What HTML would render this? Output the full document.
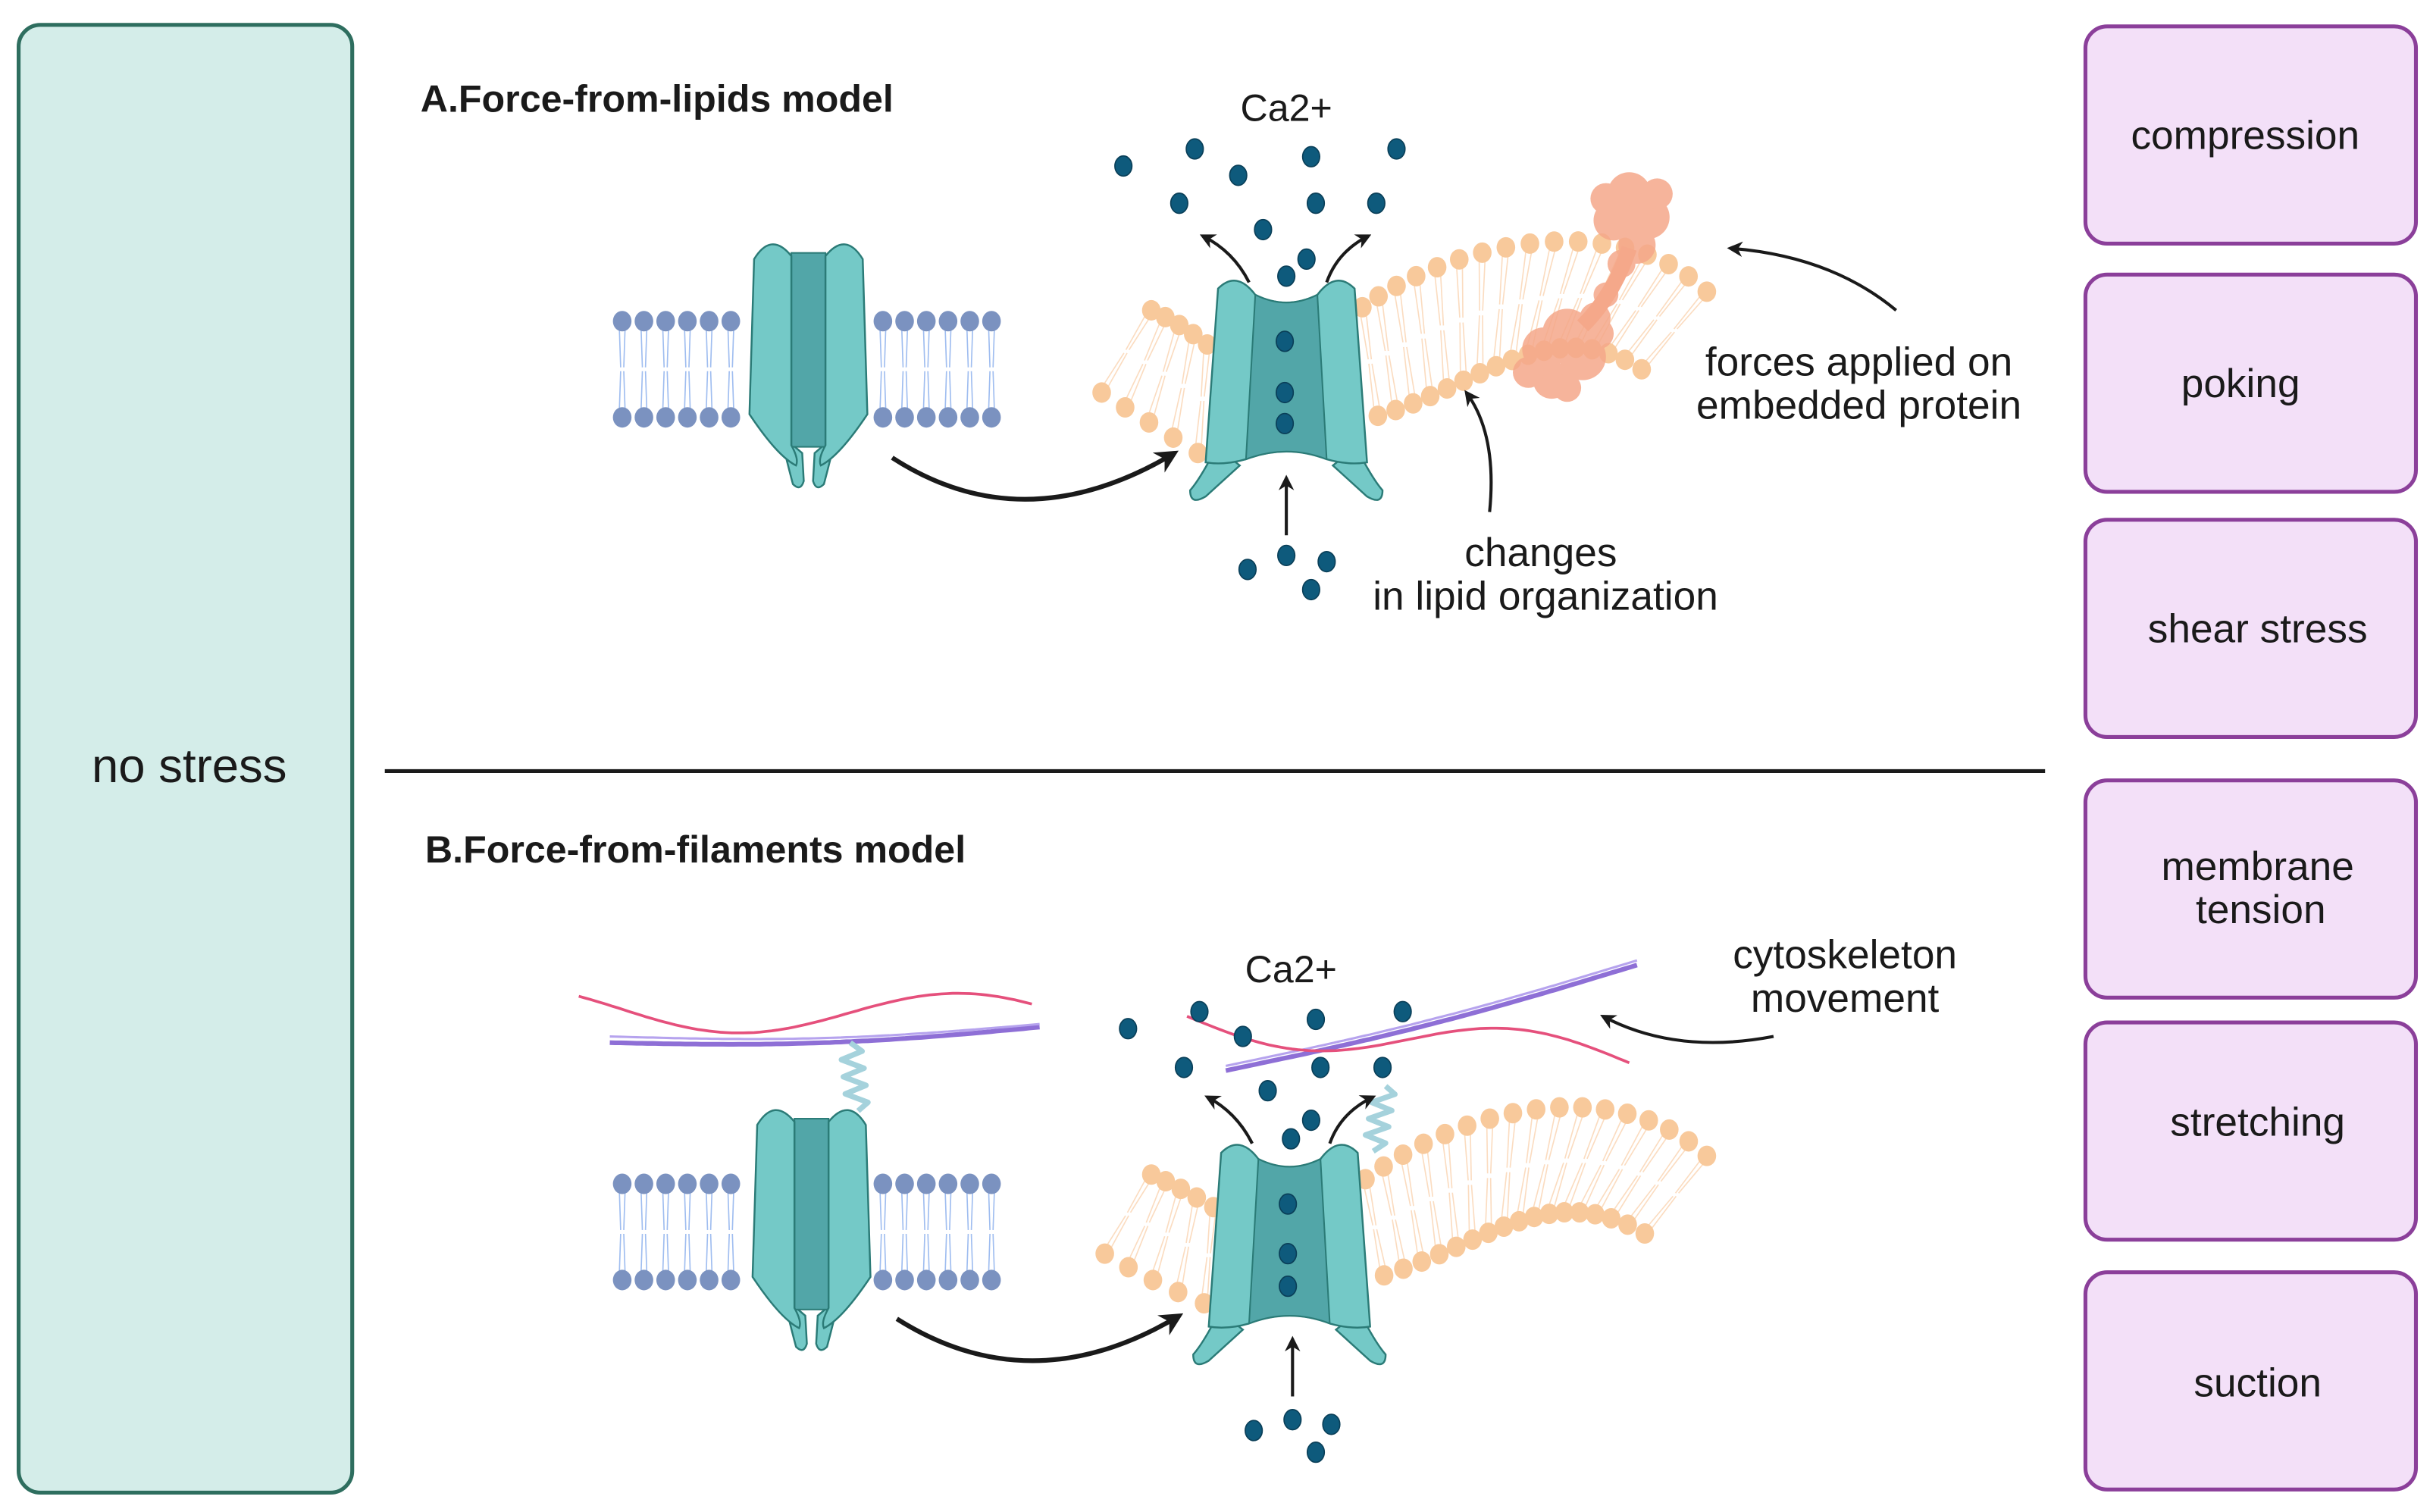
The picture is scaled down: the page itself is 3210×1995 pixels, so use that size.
<!DOCTYPE html>
<html><head><meta charset="utf-8"><style>
html,body{margin:0;padding:0;background:#fff;}
svg{display:block;}
text{font-family:"Liberation Sans",sans-serif;fill:#1a1a1a;}
</style></head><body>
<svg id="s" width="3210" height="1995" viewBox="0 0 1568 974.5" xmlns="http://www.w3.org/2000/svg">
<defs>
<marker id="ah" viewBox="0 0 10 10" refX="8" refY="5" markerWidth="5" markerHeight="5" orient="auto"><path d="M0,0 L10,5 L0,10 L3,5 Z" fill="#1a1a1a"/></marker>
</defs>
<rect x="12" y="16" width="215" height="946" rx="14" fill="#d4ede9" stroke="#2e6e5f" stroke-width="2.5"/>
<text x="122" y="504" font-size="31" text-anchor="middle">no stress</text>
<g fill="#f3e0f8" stroke="#8b3f9a" stroke-width="2.5">
<rect x="1344" y="17" width="213" height="140" rx="14"/>
<rect x="1344" y="177" width="213" height="140" rx="14"/>
<rect x="1344" y="335" width="213" height="140" rx="14"/>
<rect x="1344" y="503" width="213" height="140" rx="14"/>
<rect x="1344" y="659" width="213" height="140" rx="14"/>
<rect x="1344" y="820" width="213" height="140" rx="14"/>
</g>
<g font-size="26" text-anchor="middle">
<text x="1447" y="96">compression</text>
<text x="1444" y="256">poking</text>
<text x="1455" y="414">shear stress</text>
<text x="1455" y="567">membrane</text>
<text x="1457" y="595">tension</text>
<text x="1455" y="732">stretching</text>
<text x="1455" y="900">suction</text>
</g>
<line x1="248" y1="497" x2="1318" y2="497" stroke="#1a1a1a" stroke-width="2.5"/>
<text x="271" y="72" font-size="24.5" font-weight="bold">A.Force-from-lipids model</text>
<text x="274" y="556" font-size="24.5" font-weight="bold">B.Force-from-filaments model</text>
<g font-size="26" text-anchor="middle">
<text x="829" y="78" font-size="24.5">Ca2+</text>
<text x="832" y="633" font-size="24.5">Ca2+</text>
<text x="1198" y="242">forces applied on</text>
<text x="1198" y="270">embedded protein</text>
<text x="993" y="365">changes</text>
<text x="996" y="393">in lipid organization</text>
<text x="1189" y="624">cytoskeleton</text>
<text x="1189" y="652">movement</text>
</g>
<g id="dyn"></g>
<g fill="none" stroke="#1a1a1a" stroke-width="2" marker-end="url(#ah)">
<path d="M575,295 Q660,350 757,292" stroke-width="3"/>
<path d="M578,850 Q665,905 760,848" stroke-width="3"/>
<path d="M805,182 Q795,162 775,152"/>
<path d="M855,182 Q862,162 882,152"/>
<path d="M807,737 Q797,717 778,707"/>
<path d="M857,737 Q864,717 885,707"/>
<path d="M829,345 L829,308"/>
<path d="M833,900 L833,863"/>
<path d="M960,330 Q965,280 945,253"/>
<path d="M1222,200 Q1180,165 1115,160"/>
<path d="M1143,668 Q1080,680 1033,655"/>
</g>
</svg>
<script>
const NS="http://www.w3.org/2000/svg";const g=document.getElementById("dyn");
function el(t,a,p){const e=document.createElementNS(NS,t);for(const k in a)e.setAttribute(k,a[k]);(p||g).appendChild(e);return e;}
function cub(p,t){const u=1-t;if(p.length==3){return[u*u*p[0][0]+2*u*t*p[1][0]+t*t*p[2][0],u*u*p[0][1]+2*u*t*p[1][1]+t*t*p[2][1]];}
return[u*u*u*p[0][0]+3*u*u*t*p[1][0]+3*u*t*t*p[2][0]+t*t*t*p[3][0],u*u*u*p[0][1]+3*u*u*t*p[1][1]+3*u*t*t*p[2][1]+t*t*t*p[3][1]];}
function bilayer(up,lo,n,hc,tc,r){
 const U=[],L=[];for(let i=0;i<n;i++){const t=n==1?0:i/(n-1);U.push(cub(up,t));L.push(cub(lo,t));}
 for(let i=0;i<n;i++){
  const m1=[U[i][0]*0.52+L[i][0]*0.48,U[i][1]*0.52+L[i][1]*0.48],m2=[U[i][0]*0.48+L[i][0]*0.52,U[i][1]*0.48+L[i][1]*0.52];
  for(const d of[-2,2]){el("line",{x1:U[i][0]+d,y1:U[i][1],x2:m1[0]+d*0.5,y2:m1[1],stroke:tc,"stroke-width":0.8});
  el("line",{x1:L[i][0]+d,y1:L[i][1],x2:m2[0]+d*0.5,y2:m2[1],stroke:tc,"stroke-width":0.8});}}
 for(let i=0;i<n;i++){el("ellipse",{cx:U[i][0],cy:U[i][1],rx:r,ry:r*1.1,fill:hc});el("ellipse",{cx:L[i][0],cy:L[i][1],rx:r,ry:r*1.1,fill:hc});}
}
function flat(y1,y2){for(let x=401;x<=641;x+=14){if(x>476&&x<566)continue;bilayer([[x,y1],[x,y1],[x,y1]],[[x,y2],[x,y2],[x,y2]],1,"#7b92c0","#9fbdf0",6);}}
flat(207,269);flat(763,825);
const OH="#f8c99b",OT="#fbdcc0";
bilayer([[742,200],[760,208],[778,222]],[[710,253],[740,272],[772,292]],5,OH,OT,6);
bilayer([[878,198],[930,160],[1040,130],[1100,188]],[[888,268],[950,250],[1000,200],[1058,238]],17,OH,OT,6);
bilayer([[742,757],[760,765],[782,778]],[[712,808],[742,826],[776,840]],5,OH,OT,6);
bilayer([[880,760],[940,715],[1040,690],[1100,745]],[[892,822],[960,800],[1000,760],[1060,795]],17,OH,OT,6);
const pg=el("g",{fill:"#f5a88a",opacity:"0.85"});
[[1050,125,14],[1062,140,14],[1040,142,13],[1055,158,12],[1035,128,10],[1068,125,10],[1045,170,9],[1035,190,8],[1028,205,10],[1010,215,16],[995,225,14],[1020,230,15],[1000,245,12],[985,240,10],[1030,215,10],[1010,250,9]].forEach(c=>el("circle",{cx:c[0],cy:c[1],r:c[2]},pg));
el("path",{d:"M1050,160 Q1040,190 1020,210",stroke:"#f5a88a","stroke-width":10,fill:"none"});
function closed(cx,top,bot){const t=top,b=bot;
 el("path",{d:`M${cx-18},${b-12} Q${cx-14},${b+5} ${cx-10},${b+20} Q${cx-5},${b+25} ${cx-3},${b+18} L${cx-4},${b} Z M${cx+18},${b-12} Q${cx+14},${b+5} ${cx+10},${b+20} Q${cx+5},${b+25} ${cx+3},${b+18} L${cx+4},${b} Z`,fill:"#74c9c7",stroke:"#2b7b77","stroke-width":1.2});
 el("rect",{x:cx-11,y:t+8,width:22,height:b-t-12,fill:"#52a6a8",stroke:"#2b7b77","stroke-width":1});
 el("path",{d:`M${cx-38},${b-25} L${cx-35},${t+12} Q${cx-24},${t-6} ${cx-11},${t+10} L${cx-11},${b-5} Q${cx-6},${b+4} ${cx-8},${b+8} Q${cx-20},${b+2} ${cx-38},${b-25} Z`,fill:"#74c9c7",stroke:"#2b7b77","stroke-width":1.2});
 el("path",{d:`M${cx+38},${b-25} L${cx+35},${t+12} Q${cx+24},${t-6} ${cx+11},${t+10} L${cx+11},${b-5} Q${cx+6},${b+4} ${cx+8},${b+8} Q${cx+20},${b+2} ${cx+38},${b-25} Z`,fill:"#74c9c7",stroke:"#2b7b77","stroke-width":1.2});
}
closed(521,155,292);closed(523,713,848);
function open(cx,t){const o=(x,y)=>`${cx+x},${t+y}`;
 el("path",{d:`M${o(-45,110)} Q${o(-55,130)} ${o(-62,138)} Q${o(-62,148)} ${o(-52,142)} L${o(-30,122)} Z M${o(45,110)} Q${o(55,130)} ${o(62,138)} Q${o(62,148)} ${o(52,142)} L${o(30,122)} Z`,fill:"#74c9c7",stroke:"#2b7b77","stroke-width":1.2});
 el("path",{d:`M${o(-44,8)} Q${o(-32,-4)} ${o(-20,12)} Q${o(0,22)} ${o(20,12)} Q${o(32,-4)} ${o(44,8)} L${o(52,120)} Q${o(40,122)} ${o(26,118)} Q${o(0,108)} ${o(-26,118)} Q${o(-40,122)} ${o(-52,120)} Z`,fill:"#74c9c7",stroke:"#2b7b77","stroke-width":1.2});
 el("path",{d:`M${o(-20,12)} Q${o(0,22)} ${o(20,12)} L${o(26,118)} Q${o(0,108)} ${o(-26,118)} Z`,fill:"#52a6a8",stroke:"#2b7b77","stroke-width":1});
}
open(829,178);open(831,735);
function wave(x0,y0,x1,y1,amp,per,col,w,ph){ph=ph||0;let d="";const n=80;for(let i=0;i<=n;i++){const t=i/n;const x=x0+(x1-x0)*t,y=y0+(y1-y0)*t+amp*Math.sin(t*per*Math.PI*2+ph);d+=(i?"L":"M")+x.toFixed(1)+","+y.toFixed(1);}el("path",{d,fill:"none",stroke:col,"stroke-width":w});}
wave(393,672,670,662,5,0.5,"#8e6fd6",3);wave(393,668,670,660,5,0.5,"#b6a3ee",1.5);
wave(373,650,665,655,14,1,"#e5507c",1.8,-0.6);
wave(790,690,1055,622,4,0.5,"#8e6fd6",3);wave(790,687,1055,619,4,0.5,"#b6a3ee",1.5);
wave(765,655,1050,685,14,1,"#e5507c",1.8);
function spring(x0,y0,x1,y1){let d="";const n=8;for(let i=0;i<=n;i++){const t=i/n;const x=x0+(x1-x0)*t+(i%2?7:-7)*(i>0&&i<n?1:0),y=y0+(y1-y0)*t;d+=(i?"L":"M")+x+","+y;}el("path",{d,fill:"none",stroke:"#a5d2dc","stroke-width":3.5,"stroke-linejoin":"round"});}
spring(548,672,553,716);spring(893,700,885,742);
const ions=[[724,107],[770,96],[798,113],[845,101],[900,96],[760,131],[814,148],[848,131],[887,131],[842,167],[829,178],[828,220],[828,253],[828,273],[829,358],[804,367],[855,362],[845,380],
[727,663],[773,652],[801,668],[848,657],[904,652],[763,688],[817,703],[851,688],[891,688],[845,722],[832,734],[830,776],[830,808],[830,829],[833,915],[808,922],[858,918],[848,936]];
ions.forEach(p=>el("ellipse",{cx:p[0],cy:p[1],rx:5.5,ry:6.5,fill:"#0e5a7c",stroke:"#0a3f58","stroke-width":0.8}));
</script>
</body></html>
